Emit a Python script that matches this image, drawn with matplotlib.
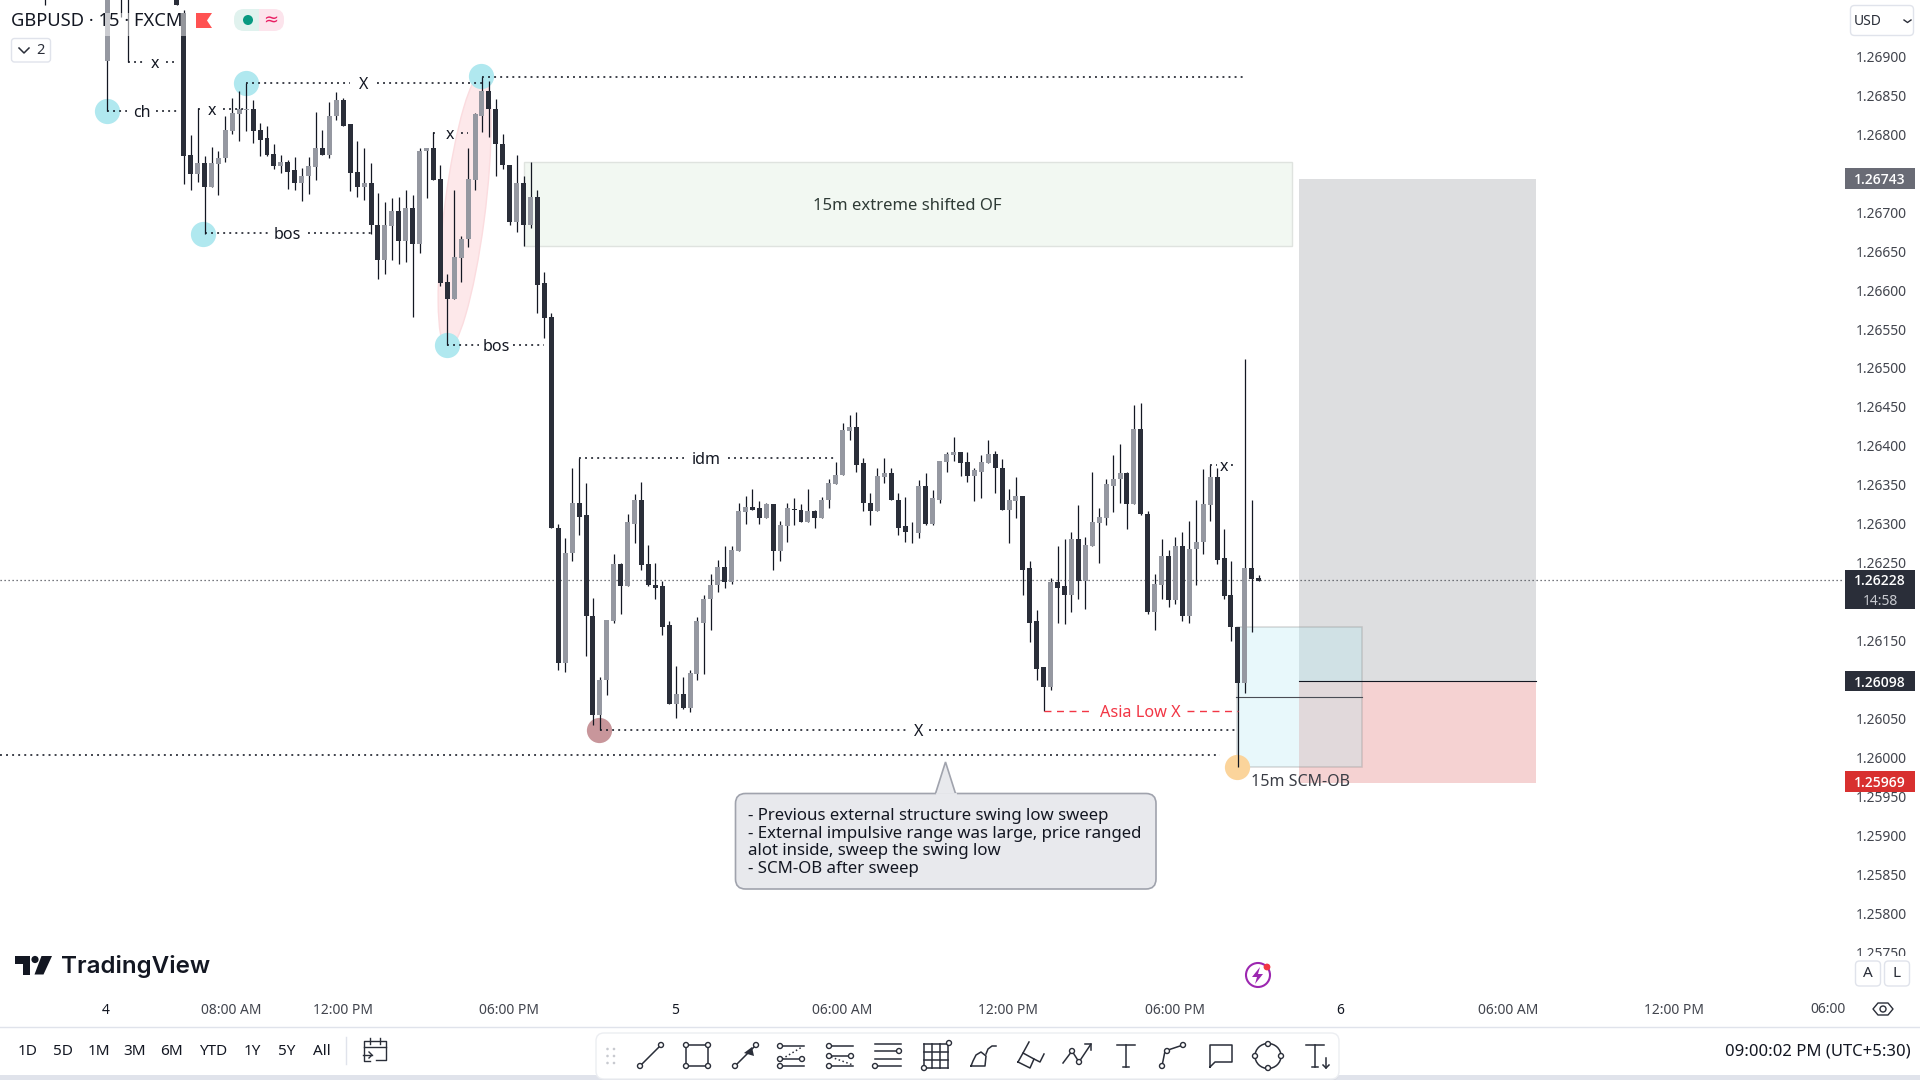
import numpy as np
import matplotlib
matplotlib.use('Agg')
import matplotlib.pyplot as plt
from matplotlib.patches import Rectangle, Ellipse, Polygon, FancyBboxPatch, Circle
from matplotlib.transforms import Affine2D

plt.rcParams['font.family'] = ['Noto Sans', 'DejaVu Sans']

# ================================================================================
# bars above the top of the window, only their lower ends can be seen
early_bars = [-73, -64, -62, -61, -54]
early_opens = [1.27050, 1.26894, 1.27010, 1.27020, 1.27060]
early_highs = [1.27080, 1.27060, 1.27050, 1.27040, 1.27080]
early_lows = [1.26966, 1.26830, 1.26950, 1.26893, 1.26966]
early_closes = [1.27000, 1.27030, 1.26985, 1.26990, 1.26966]

# bars -53 .. 102
opens = [
    1.26956, 1.26773, 1.26749, 1.26763, 1.26732, 1.26762, 1.26770, 1.26804, 1.26826, 1.26831,
    1.26832, 1.26805, 1.26795, 1.26775, 1.26759, 1.26764, 1.26754, 1.26737, 1.26746, 1.26758,
    1.26783, 1.26773, 1.26823, 1.26844, 1.26813, 1.26751, 1.26732, 1.26738, 1.26684, 1.26639,
    1.26682, 1.26701, 1.26663, 1.26706, 1.26659, 1.26778, 1.26783, 1.26742, 1.26610, 1.26589,
    1.26641, 1.26665, 1.26741, 1.26824, 1.26855, 1.26833, 1.26788, 1.26761, 1.26688, 1.26737,
    1.26683, 1.26719, 1.26609, 1.26565,
    1.26294, 1.26121, 1.26262, 1.26326, 1.26311, 1.26182, 1.26055, 1.26099, 1.26175, 1.26248,
    1.26220, 1.26300, 1.26331, 1.26248, 1.26222, 1.26220, 1.26170, 1.26068, 1.26082, 1.26064,
    1.26107, 1.26173, 1.26203, 1.26221, 1.26245, 1.26225, 1.26265, 1.26315, 1.26322, 1.26320,
    1.26308, 1.26325, 1.26265, 1.26297, 1.26319, 1.26318, 1.26302, 1.26317, 1.26308, 1.26330,
    1.26351, 1.26362, 1.26419, 1.26424, 1.26378, 1.26327, 1.26317, 1.26360, 1.26365, 1.26331,
    1.26297, 1.26290, 1.26288, 1.26348, 1.26300, 1.26331, 1.26379, 1.26388, 1.26392, 1.26379,
    1.26361, 1.26367, 1.26378, 1.26390, 1.26372, 1.26318, 1.26329, 1.26336,
    1.26243, 1.26175, 1.26116, 1.26091, 1.26225, 1.26220, 1.26209, 1.26280, 1.26226, 1.26272,
    1.26301, 1.26308, 1.26349, 1.26357, 1.26365, 1.26325, 1.26421, 1.26313, 1.26187, 1.26222,
    1.26258, 1.26202, 1.26272, 1.26181, 1.26267, 1.26276, 1.26324, 1.26360, 1.26256, 1.26208,
    1.26168, 1.26096, 1.26243, 1.26230]
highs = [
    1.26960, 1.26799, 1.26834, 1.26772, 1.26784, 1.26778, 1.26824, 1.26847, 1.26855, 1.26866,
    1.26844, 1.26815, 1.26810, 1.26788, 1.26774, 1.26767, 1.26771, 1.26757, 1.26771, 1.26828,
    1.26806, 1.26842, 1.26854, 1.26847, 1.26813, 1.26792, 1.26783, 1.26763, 1.26724, 1.26713,
    1.26718, 1.26720, 1.26729, 1.26722, 1.26783, 1.26783, 1.26803, 1.26760, 1.26620, 1.26729,
    1.26669, 1.26783, 1.26827, 1.26874, 1.26869, 1.26845, 1.26801, 1.26761, 1.26773, 1.26747,
    1.26764, 1.26729, 1.26623, 1.26570,
    1.26300, 1.26282, 1.26372, 1.26384, 1.26352, 1.26205, 1.26103, 1.26177, 1.26261, 1.26250,
    1.26313, 1.26338, 1.26354, 1.26273, 1.26249, 1.26227, 1.26175, 1.26118, 1.26103, 1.26112,
    1.26180, 1.26209, 1.26235, 1.26254, 1.26272, 1.26271, 1.26327, 1.26335, 1.26344, 1.26329,
    1.26326, 1.26325, 1.26304, 1.26326, 1.26333, 1.26325, 1.26344, 1.26318, 1.26334, 1.26358,
    1.26379, 1.26429, 1.26440, 1.26444, 1.26385, 1.26340, 1.26371, 1.26384, 1.26372, 1.26339,
    1.26334, 1.26302, 1.26356, 1.26365, 1.26343, 1.26380, 1.26392, 1.26411, 1.26392, 1.26392,
    1.26371, 1.26388, 1.26407, 1.26394, 1.26383, 1.26344, 1.26360, 1.26336,
    1.26252, 1.26189, 1.26116, 1.26230, 1.26271, 1.26280, 1.26289, 1.26324, 1.26283, 1.26367,
    1.26320, 1.26357, 1.26388, 1.26402, 1.26366, 1.26452, 1.26455, 1.26316, 1.26235, 1.26280,
    1.26266, 1.26283, 1.26289, 1.26303, 1.26330, 1.26370, 1.26376, 1.26372, 1.26293, 1.26252,
    1.26168, 1.26511, 1.26331, 1.26234]
lows = [
    1.26736, 1.26729, 1.26739, 1.26672, 1.26732, 1.26722, 1.26764, 1.26800, 1.26792, 1.26804,
    1.26789, 1.26772, 1.26772, 1.26755, 1.26750, 1.26730, 1.26729, 1.26714, 1.26723, 1.26741,
    1.26773, 1.26770, 1.26818, 1.26811, 1.26727, 1.26720, 1.26715, 1.26672, 1.26614, 1.26620,
    1.26639, 1.26633, 1.26636, 1.26565, 1.26648, 1.26718, 1.26741, 1.26605, 1.26529, 1.26589,
    1.26611, 1.26655, 1.26728, 1.26803, 1.26797, 1.26747, 1.26756, 1.26683, 1.26675, 1.26656,
    1.26680, 1.26571, 1.26538, 1.26294,
    1.26112, 1.26110, 1.26252, 1.26285, 1.26130, 1.26041, 1.26035, 1.26080, 1.26172, 1.26184,
    1.26220, 1.26275, 1.26241, 1.26220, 1.26203, 1.26157, 1.26068, 1.26051, 1.26062, 1.26058,
    1.26099, 1.26107, 1.26164, 1.26212, 1.26217, 1.26223, 1.26265, 1.26300, 1.26318, 1.26300,
    1.26308, 1.26241, 1.26252, 1.26276, 1.26298, 1.26302, 1.26302, 1.26294, 1.26308, 1.26320,
    1.26351, 1.26362, 1.26408, 1.26367, 1.26317, 1.26298, 1.26317, 1.26352, 1.26330, 1.26285,
    1.26276, 1.26275, 1.26282, 1.26298, 1.26299, 1.26327, 1.26366, 1.26381, 1.26361, 1.26354,
    1.26329, 1.26333, 1.26378, 1.26340, 1.26318, 1.26275, 1.26307, 1.26209,
    1.26148, 1.26099, 1.26060, 1.26087, 1.26173, 1.26171, 1.26187, 1.26204, 1.26190, 1.26272,
    1.26249, 1.26299, 1.26315, 1.26327, 1.26293, 1.26325, 1.26311, 1.26184, 1.26163, 1.26203,
    1.26193, 1.26197, 1.26175, 1.26173, 1.26221, 1.26261, 1.26304, 1.26248, 1.26203, 1.26149,
    1.25988, 1.26083, 1.26161, 1.26226]
closes = [
    1.26772, 1.26749, 1.26763, 1.26732, 1.26763, 1.26770, 1.26805, 1.26827, 1.26832, 1.26832,
    1.26804, 1.26793, 1.26774, 1.26759, 1.26764, 1.26752, 1.26737, 1.26747, 1.26759, 1.26783,
    1.26773, 1.26824, 1.26844, 1.26811, 1.26750, 1.26732, 1.26738, 1.26683, 1.26639, 1.26683,
    1.26701, 1.26663, 1.26706, 1.26659, 1.26779, 1.26783, 1.26741, 1.26609, 1.26589, 1.26642,
    1.26666, 1.26742, 1.26826, 1.26855, 1.26832, 1.26787, 1.26760, 1.26688, 1.26737, 1.26683,
    1.26719, 1.26607, 1.26564, 1.26294,
    1.26121, 1.26263, 1.26326, 1.26309, 1.26181, 1.26055, 1.26100, 1.26176, 1.26248, 1.26220,
    1.26302, 1.26331, 1.26247, 1.26221, 1.26218, 1.26168, 1.26068, 1.26082, 1.26064, 1.26108,
    1.26175, 1.26204, 1.26222, 1.26245, 1.26225, 1.26266, 1.26316, 1.26322, 1.26318, 1.26308,
    1.26325, 1.26265, 1.26298, 1.26320, 1.26318, 1.26302, 1.26317, 1.26308, 1.26331, 1.26352,
    1.26363, 1.26420, 1.26424, 1.26376, 1.26326, 1.26317, 1.26361, 1.26365, 1.26330, 1.26295,
    1.26289, 1.26289, 1.26348, 1.26300, 1.26333, 1.26380, 1.26389, 1.26392, 1.26378, 1.26361,
    1.26369, 1.26379, 1.26390, 1.26371, 1.26318, 1.26330, 1.26336, 1.26241,
    1.26173, 1.26114, 1.26091, 1.26225, 1.26218, 1.26209, 1.26280, 1.26226, 1.26273, 1.26302,
    1.26309, 1.26351, 1.26358, 1.26365, 1.26325, 1.26421, 1.26312, 1.26187, 1.26223, 1.26258,
    1.26202, 1.26272, 1.26181, 1.26268, 1.26277, 1.26325, 1.26360, 1.26254, 1.26207, 1.26167,
    1.26096, 1.26243, 1.26229, 1.26226]

price_ticks = [1.26900, 1.26850, 1.26800, 1.26750, 1.26700, 1.26650, 1.26600, 1.26550, 1.26500, 1.26450,
               1.26400, 1.26350, 1.26300, 1.26250, 1.26200, 1.26150, 1.26100, 1.26050, 1.26000, 1.25950,
               1.25900, 1.25850, 1.25800, 1.25750]
time_bars = [-64.2, -46.1, -30.1, -6.1, 17.8, 41.9, 65.9, 89.9, 113.7, 137.9, 161.9]
time_labels = ['4', '08:00 AM', '12:00 PM', '06:00 PM', '5', '06:00 AM', '12:00 PM', '06:00 PM', '6', '06:00 AM', '12:00 PM']

swing_bars = [-64, -44, -50.2, -15, -10.1]
swing_prices = [1.26830, 1.26866, 1.26672, 1.26529, 1.26875]

# ================================================================================
bars = np.concatenate([early_bars, np.arange(-53, 103)])
o = np.array(early_opens + opens)
h = np.array(early_highs + highs)
l = np.array(early_lows + lows)
c = np.array(early_closes + closes)

DARK = '#2a2e39'
GREY = '#9598a1'

fig = plt.figure(figsize=(19.2, 10.8), dpi=100, facecolor='white')
ax = fig.add_axes([0, 85 / 1080, 1843 / 1920, 995 / 1080])
ax.set_xlim(-79.5, 186.25)
ax.set_ylim(1.25695, 1.269724)
for s in ax.spines.values():
    s.set_visible(False)

# ================================================================================
# position boxes
ax.add_patch(Rectangle((-4, 1.26656), 110.8, 0.00108, fc='#f2f8f2', ec='#dfe3df', lw=1, zorder=1))
ax.add_patch(Rectangle((107.8, 1.26098), 34.25, 0.00645, fc='#dddee0', ec='none', zorder=1))
ax.add_patch(Rectangle((107.8, 1.25967), 34.25, 0.00131, fc='#f5d2d2', ec='none', zorder=1))
ax.add_patch(Rectangle((98.9, 1.25988), 18, 0.0018, fc=(0.70, 0.92, 0.95, 0.3), ec=(0.55, 0.55, 0.55, 0.35), lw=1.1, zorder=1.2))
ax.plot([107.8, 142.05], [1.26098, 1.26098], color='#131722', lw=0.8, zorder=1.3)
ax.plot([98.7, 116.9], [1.26078, 1.26078], color='#4a4d55', lw=0.8, zorder=1.3)

# pink leg ellipse, an affine circle between the two swing points
leg = Affine2D(np.array([[2.6, 2.8, -12.5], [0.00176, -0.00012, 1.26701], [0, 0, 1]]))
ax.add_patch(Ellipse((0, 0), 2, 2, fc='#fde8ea', ec='#fbdcdf', lw=1, zorder=1.4, transform=leg + ax.transData))

ax.scatter(swing_bars, swing_prices, s=330, color='#b0e8ef', linewidths=0, zorder=1.5)
ax.scatter([6.9], [1.26035], s=330, color='#c8969b', linewidths=0, zorder=1.5)
ax.scatter([98.9], [1.25988], s=330, color='#fbd49b', linewidths=0, zorder=1.5)

# ================================================================================
# candles
colors = np.where(c < o, DARK, GREY)
ax.vlines(bars, l, h, color='#131722', lw=0.9, zorder=3)
ax.bar(bars, np.abs(c - o), bottom=np.minimum(o, c), width=0.72, color=colors, linewidth=0, zorder=3.2)

# ================================================================================
DOT = (0, (1.2, 2.6))


def level(start, end, price, label=None, at=None, gap=2.0, size=11.5, color='#131722'):
    if label is None:
        ax.plot([start, end], [price, price], color=color, lw=1.15, ls=DOT, zorder=4)
        return
    ax.plot([start, at - gap], [price, price], color=color, lw=1.15, ls=DOT, zorder=4)
    ax.plot([at + gap, end], [price, price], color=color, lw=1.15, ls=DOT, zorder=4)
    ax.text(at, price, label, ha='center', va='center_baseline', fontsize=size, color=color, zorder=4)


level(-61, -54, 1.26893, 'x', -57.1, 1.6)
level(-64, -54, 1.26830, 'ch', -59.1, 2.1)
level(-51, -44, 1.26832, 'x', -49, 1.6)
level(-44, -10, 1.26866, 'X', -27.1, 2.0)
level(-50, -26, 1.26673, 'bos', -38, 2.9)
level(-17, -12, 1.26802, 'x', -14.6, 1.6)
level(-10, 100, 1.26874)
level(-15, -1, 1.26529, 'bos', -8, 2.4)
level(4, 41, 1.26384, 'idm', 22.3, 3.2)
level(7, 99, 1.26035, 'X', 52.9, 1.6)
level(-79.5, 96.4, 1.26003)
level(95, 98.5, 1.26375, 'x', 97, 1.0)

ax.plot([71, 77.9], [1.26060, 1.26060], color='#f23645', lw=1, ls=(0, (5, 4)), zorder=4)
ax.plot([91.7, 99], [1.26060, 1.26060], color='#f23645', lw=1, ls=(0, (5, 4)), zorder=4)
ax.text(84.9, 1.26060, 'Asia Low X', ha='center', va='center_baseline', fontsize=11.7, color='#f23645', zorder=4)

ax.axhline(1.26228, color='#4a4d55', lw=0.9, ls=(0, (1, 2.2)), zorder=2)
ax.text(51.3, 1.26710, '15m extreme shifted OF', ha='center', va='center_baseline', fontsize=12, color='#2f3b36', zorder=4)
ax.text(100.9, 1.25971, '15m SCM-OB', ha='left', va='center_baseline', fontsize=11.5, color='#3a3d45', zorder=4)

# ================================================================================
# axes labels
ax.yaxis.tick_right()
ax.set_yticks(price_ticks)
ax.set_yticklabels(['%.5f' % p for p in price_ticks])
ax.set_xticks(time_bars)
ax.set_xticklabels(time_labels)
ax.tick_params(axis='y', length=0, pad=9.5, labelsize=10, labelcolor='#42454e')
ax.tick_params(axis='x', length=0, pad=6, labelsize=10, labelcolor='#42454e')
for t, name in zip(ax.get_xticklabels(), time_labels):
    if len(name) == 1:
        t.set_color('#131722')
        t.set_fontweight('bold')
ax.text(1.0012, -0.0148, '06:00', transform=ax.transAxes, ha='right', va='center', fontsize=10, color='#42454e')

# price tags
tag_prices = [1.26743, 1.26098, 1.25969]
tag_colors = ['#696b75', '#2a2e39', '#d8302f']
tx = ax.get_yaxis_transform()
for p, col in zip(tag_prices, tag_colors):
    ax.add_patch(Rectangle((1.0011, p - 0.000133), 0.038, 0.000266, fc=col, ec='none', transform=tx, clip_on=False, zorder=6))
    ax.text(1.0201, p, '%.5f' % p, transform=tx, ha='center', va='center_baseline', fontsize=10, fontweight='semibold',
            family=['Open Sans', 'Noto Sans'], color='white', clip_on=False, zorder=7)
ax.add_patch(Rectangle((1.0011, 1.26191), 0.038, 0.0005, fc='#2a2e39', ec='none', transform=tx, clip_on=False, zorder=6))
ax.text(1.0201, 1.26228, '1.26228', transform=tx, ha='center', va='center_baseline', fontsize=10, fontweight='semibold',
        family=['Open Sans', 'Noto Sans'], color='white', clip_on=False, zorder=7)
ax.text(1.0201, 1.26203, '14:58', transform=tx, ha='center', va='center_baseline', fontsize=10, color='#c8cad0', clip_on=False, zorder=7)

# ================================================================================
# window chrome, in screen pixels
ui = fig.add_axes([0, 0, 1, 1], zorder=10)
ui.set_xlim(0, 1920)
ui.set_ylim(1080, 0)
ui.axis('off')
ui.patch.set_alpha(0)

INK = '#2a2e39'

# legend haze and header
ui.add_patch(Rectangle((8, 13), 182, 23, fc='white', alpha=0.5, ec='none'))
ui.text(11, 21.5, 'GBPUSD · 15 · FXCM', fontsize=13.2, color='#131722', va='center')
ui.add_patch(Polygon([(196, 13), (212, 13), (207, 20.5), (212, 28), (196, 28)], fc='#ff5252', ec='none'))
ui.add_patch(FancyBboxPatch((234, 9), 25, 22, boxstyle='round,pad=0,rounding_size=10', fc='#e0f2ee', ec='none'))
ui.add_patch(Rectangle((246, 9), 13, 22, fc='#e0f2ee', ec='none'))
ui.add_patch(FancyBboxPatch((259, 9), 25, 22, boxstyle='round,pad=0,rounding_size=10', fc='#fce4ec', ec='none'))
ui.add_patch(Rectangle((259, 9), 12, 22, fc='#fce4ec', ec='none'))
ui.add_patch(Circle((248, 20), 5, fc='#089981', ec='none'))
ui.text(271, 20, '≈', fontsize=13, color='#e91e63', ha='center', va='center')
ui.add_patch(FancyBboxPatch((11.5, 38.5), 39, 23.5, boxstyle='round,pad=0,rounding_size=3', fc='white', ec='#e0e3eb', lw=1))
ui.plot([19, 24, 29], [48, 53, 48], color=INK, lw=1.1)
ui.text(40, 50, '2', fontsize=10.5, color=INK, ha='center', va='center')

# USD button and scale buttons
ui.add_patch(FancyBboxPatch((1850.5, 5.5), 63, 30, boxstyle='round,pad=0,rounding_size=4', fc='white', ec='#e0e3eb', lw=1))
ui.text(1854, 21.5, 'USD', fontsize=10, color=INK, va='center')
ui.plot([1904, 1907.5, 1911], [20, 22.5, 20], color=INK, lw=1)
ui.add_patch(Rectangle((1845, 956), 75, 68, fc='white', ec='none'))
for cx, name in [(1868, 'A'), (1897, 'L')]:
    ui.add_patch(FancyBboxPatch((cx - 12.5, 961), 25, 25, boxstyle='round,pad=0,rounding_size=4', fc='white', ec='#e0e3eb', lw=1))
    ui.text(cx, 973.5, name, fontsize=11, color=INK, ha='center', va='center')
ui.add_patch(Polygon([(1873, 1009), (1878, 1003), (1888, 1003), (1893, 1009), (1888, 1015), (1878, 1015)], fc='none', ec=INK, lw=1, joinstyle='round'))
ui.add_patch(Circle((1883, 1009), 3, fc='none', ec=INK, lw=1))

# logo
ui.add_patch(Polygon([(15, 956), (30, 956), (30, 974.5), (22.6, 974.5), (22.6, 963.5), (15, 963.5)], fc='#131722', ec='none'))
ui.add_patch(Circle((35, 959.5), 3.6, fc='#131722', ec='none'))
ui.add_patch(Polygon([(41.5, 956), (52, 956), (43.5, 974.5), (34.5, 974.5)], fc='#131722', ec='none'))
ui.text(61, 966, 'TradingView', fontsize=17.4, fontweight='semibold', color='#131722', va='center', family=['Inter', 'Noto Sans'])

# lightning badge
ui.add_patch(Circle((1258, 975), 12, fc='none', ec='#9c27b0', lw=1.5))
ui.add_patch(Polygon([(1260, 967), (1252, 977), (1257, 977), (1255, 984), (1263, 974), (1258, 974)], fc='#9c27b0', ec='none'))
ui.add_patch(Circle((1267, 967), 3.4, fc='#f23645', ec='none'))

# callout
ui.add_patch(FancyBboxPatch((735.5, 793.5), 420.5, 95.5, boxstyle='round,pad=0,rounding_size=10', fc='#e8e9ed', ec='#a0a3ad', lw=1.2))
ui.add_patch(Polygon([(935.5, 793.5), (945.5, 762), (955.5, 793.5)], closed=False, fc='#e8e9ed', ec='#a0a3ad', lw=1.2))
ui.plot([936.5, 954.5], [794, 794], color='#e8e9ed', lw=2)
callout_lines = ['- Previous external structure swing low sweep',
                 '- External impulsive range was large, price ranged',
                 'alot inside, sweep the swing low',
                 '- SCM-OB after sweep']
for yy, line in zip([814, 832, 849, 867], callout_lines):
    ui.text(748.5, yy, line, fontsize=12.1, color='#131722', va='center_baseline')

# bottom bar
ui.plot([0, 1920], [1026.5, 1026.5], color='#e0e3eb', lw=1)
ui.add_patch(Rectangle((0, 1075), 1920, 5, fc='#e0e3eb', ec='none'))
range_names = ['1D', '5D', '1M', '3M', '6M', 'YTD', '1Y', '5Y', 'All']
range_xs = [27.7, 62.7, 98.7, 135, 171.7, 212.7, 252.7, 286.7, 322]
for xx, name in zip(range_xs, range_names):
    ui.text(xx, 1051.5, name, fontsize=11, color='#131722', ha='center', va='center')
ui.plot([345.5, 345.5], [1037, 1064], color='#e0e3eb', lw=1)
ui.plot([370, 364, 364, 386, 386, 376], [1061, 1061, 1041, 1041, 1060, 1060], color=INK, lw=1)
ui.plot([364, 386], [1047, 1047], color=INK, lw=1)
ui.plot([370, 370], [1038, 1044], color=INK, lw=1)
ui.plot([380, 380], [1038, 1044], color=INK, lw=1)
ui.plot([363, 372], [1055, 1055], color=INK, lw=1)
ui.plot([369, 372, 369], [1052, 1055, 1058], color=INK, lw=1)
ui.text(1911, 1052, '09:00:02 PM (UTC+5:30)', fontsize=12, color='#131722', ha='right', va='center')

# drawing toolbar
ui.add_patch(FancyBboxPatch((598, 1035), 741, 46, boxstyle='round,pad=0,rounding_size=8', fc='#d8dae0', ec='none', alpha=0.7))
ui.add_patch(FancyBboxPatch((596, 1033), 743, 46, boxstyle='round,pad=0,rounding_size=8', fc='white', ec='#eceef2', lw=1))
for gx in [607.5, 614]:
    for gy in [1049, 1056, 1063]:
        ui.add_patch(Circle((gx, gy), 1.3, fc='#c8cad0', ec='none'))


def seg(cx, pts, cy=1056, **kw):
    ui.plot([cx + p[0] for p in pts], [cy + p[1] for p in pts], color=kw.get('color', INK), lw=kw.get('lw', 1.1), ls=kw.get('ls', '-'))


def nodes(cx, pts, cy=1056):
    for p in pts:
        ui.add_patch(Circle((cx + p[0], cy + p[1]), 2.5, fc='white', ec=INK, lw=1, zorder=5))


seg(652, [(-12, 10), (9, -11)])
nodes(652, [(-12, 10), (9, -11)])
seg(697, [(-11, -11), (11, -11), (11, 10), (-11, 10), (-11, -11)])
nodes(697, [(-11, -11), (11, -11), (11, 10), (-11, 10)])
seg(746, [(-11, 10), (10, -11)])
nodes(746, [(-11, 10), (10, -11)])
ui.add_patch(Polygon([(746 + 6, 1056 - 9), (746 + 8, 1056 + 0), (746 - 2, 1056 - 3)], fc=INK, ec='none'))
for yy in [-10, 3, 10]:
    seg(791, [(-9, yy), (13, yy)])
seg(791, [(-9, 3), (11, -9)], ls=':')
nodes(791, [(-11, -10), (-11, 3), (11, 3), (-11, 10)])
for yy in [-10, 0, 10]:
    seg(840, [(-10, yy), (13, yy)])
seg(840, [(-9, 1), (13, 9)], ls=':')
nodes(840, [(-11, -10), (-11, 0), (11, 0), (-11, 10)])
for yy in [-12, -5, 3, 10]:
    seg(887, [(-12, yy), (14, yy)])
nodes(887, [(12, -5), (-12, 10)])
for dd in [-12, -4, 4, 12]:
    seg(936, [(dd, -12), (dd, 12)])
    seg(936, [(-12, dd), (12, dd)])
nodes(936, [(-12, 12), (13, -13)])
seg(983, [(-12, 10), (2, 10), (3, 0), (-2, -4), (-7, -1), (-10, 5), (-12, 10)])
seg(983, [(3, -2), (5, -7), (9, -10), (13, -10)])
seg(1030, [(-12, 6), (-7, -3), (4, 3), (0, 12), (-12, 6)])
seg(1030, [(-7, -3), (-1, -14)])
seg(1030, [(4, 3), (10, 6), (14, -2)])
seg(1077, [(-14, 7), (-5, -5), (2, 6), (14, -12)])
seg(1077, [(8, -12), (14, -12), (14, -6)])
nodes(1077, [(-5, -5), (2, 6)])
seg(1126, [(-9, -11), (9, -11)])
seg(1126, [(0, -11), (0, 11)])
seg(1126, [(-3, 11), (3, 11)])
seg(1173, [(-11, 10), (-8, -5), (10, -11)])
nodes(1173, [(-11, 10), (-6, -5), (10, -11)])
seg(1221, [(-11, 11), (-11, -11), (11, -11), (11, 6), (-6, 6), (-11, 11)])
ui.add_patch(Ellipse((1268, 1056), 26, 25, fc='none', ec=INK, lw=1.1))
nodes(1268, [(0, -12), (0, 12), (-13, 0), (13, 0)])
seg(1316, [(-10, -11), (8, -11)])
seg(1316, [(-1, -11), (-1, 11)])
seg(1316, [(-4, 11), (2, 11)])
seg(1326, [(0, 2), (0, 12)])
seg(1326, [(-3, 9), (0, 12), (3, 9)])

fig.savefig('out.png', dpi=100)
